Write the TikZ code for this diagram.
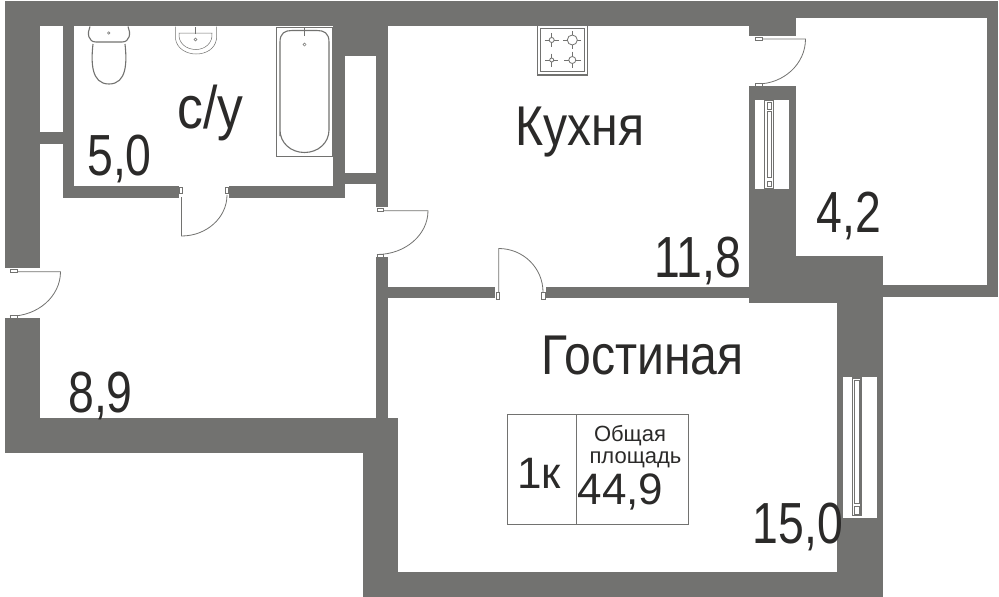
\documentclass[tikz,border=0pt]{standalone}
\usepackage{fontspec}
\setmainfont{Liberation Sans}
\newfontfamily\roomfont[FakeStretch=0.86]{Liberation Sans}
\newfontfamily\digitfont[FakeStretch=0.80]{Liberation Sans}
\usepackage{tikz}
\usetikzlibrary{calc}
\definecolor{wallgray}{HTML}{727270}
\definecolor{inkdark}{HTML}{2B2A29}
\tikzset{
  wall/.style={fill=wallgray},
  doorline/.style={draw=wallgray, line width=0.8pt},
  fixture/.style={draw=wallgray, line width=1.1pt, fill=white},
  thinfix/.style={draw=wallgray, line width=0.5pt, fill=white},
  label/.style={inner sep=0pt, text=inkdark, anchor=base},
  area/.style={label, font=\digitfont\fontsize{58}{58}\selectfont},
  room/.style={label, font=\roomfont\fontsize{56}{56}\selectfont},
  smalltext/.style={label, font=\fontsize{22}{22}\selectfont},
  midtext/.style={label, font=\fontsize{44}{44}\selectfont}
}
\begin{document}
\begin{tikzpicture}[x=1pt,y=-1pt]
  \useasboundingbox (0,0) rectangle (999,597);
  \fill[white] (0,0) rectangle (999,597);
  % outer walls
  \fill[wall] (4.7,1) rectangle (796,26);
  \fill[wall] (796,1) rectangle (998,17.5);
  \fill[wall] (749,26) rectangle (796,36);
  \fill[wall] (987,1) rectangle (998,297);
  \fill[wall] (883,285) rectangle (998,297);
  \fill[wall] (796,256) rectangle (883,303);
  \fill[wall] (749,86) rectangle (796,303);
  \fill[wall] (749,298) rectangle (883,303);
  \fill[wall] (837,303) rectangle (883,597);
  \fill[wall] (363,572) rectangle (883,597);
  \fill[wall] (363,418) rectangle (398,597);
  \fill[wall] (4.7,418) rectangle (398,453);
  \fill[wall] (4.7,26) rectangle (40,268);
  \fill[wall] (4.7,318) rectangle (40,453);
  % inner walls
  \fill[wall] (40,132) rectangle (62.5,144);
  \fill[wall] (62.5,26) rectangle (74,198);
  \fill[wall] (62.5,186) rectangle (179,198);
  \fill[wall] (229,186) rectangle (345,198);
  \fill[wall] (333,26) rectangle (345,198);
  \fill[wall] (333,26) rectangle (388,56);
  \fill[wall] (345,173) rectangle (376,184);
  \fill[wall] (376,26) rectangle (388,207);
  \fill[wall] (376,257) rectangle (388,418);
  \fill[wall] (387,287) rectangle (495,298);
  \fill[wall] (546,287) rectangle (749,298);
  % windows
  \fill[white] (755,100) rectangle (789,189);
  \draw[fixture] (764.5,100.5) rectangle (773.8,188.5);
  \draw[thinfix] (766.8,102.7) rectangle (771.6,109);
  \draw[thinfix] (766.8,111.5) rectangle (771.6,177);
  \draw[thinfix] (766.8,181.5) rectangle (771.6,186.7);
  \fill[white] (843,377) rectangle (877,518);
  \draw[fixture] (852.5,378) rectangle (861,515.5);
  \draw[thinfix] (854.6,380) rectangle (859,503);
  \draw[thinfix] (854.6,506) rectangle (859,514);
  % doors
  \draw[doorline] (181.5,197) -- (181.5,236) arc[start angle=90, end angle=0, x radius=45.5, y radius=41];
  \draw[thinfix] (179.5,187) rectangle (182.5,193);
  \draw[thinfix] (225.5,187) rectangle (228.5,193);
  \draw[doorline] (377,210.7) -- (428,210.7) arc[start angle=0, end angle=90, x radius=51, y radius=43.8];
  \draw[thinfix] (377.5,208) rectangle (383.5,211);
  \draw[thinfix] (377.5,254) rectangle (383.5,257);
  \draw[doorline] (498.7,293) -- (498.7,248.5) arc[start angle=-90, end angle=0, x radius=44.3, y radius=43.5];
  \draw[thinfix] (496,292) rectangle (499.5,299);
  \draw[thinfix] (541.5,292) rectangle (545,299);
  \draw[doorline] (10,271.7) -- (60.5,271.7) arc[start angle=0, end angle=90, x radius=50.5, y radius=44.5];
  \draw[thinfix] (10.5,269) rectangle (17,272);
  \draw[thinfix] (10.5,315) rectangle (17,318);
  \draw[doorline] (757,39) -- (805.5,39) arc[start angle=0, end angle=90, x radius=48.5, y radius=45];
  \draw[thinfix] (755.5,37) rectangle (762,40);
  \draw[thinfix] (755.5,83) rectangle (762,86);
  % toilet
  \draw[fixture] (93,44) .. controls (91,62) and (91,84) .. (109,84) .. controls (127,84) and (127,62) .. (125,44);
  \draw[fixture] (90,26.5) .. controls (87,33) and (88,42) .. (96,42) -- (122,42) .. controls (130,42) and (131,33) .. (128,26.5);
  \draw[thinfix] (108.8,33) circle (1.3);
  % sink
  \draw[thinfix] (175.5,26.5) -- (175.5,39) .. controls (177,49) and (187,54) .. (196,54) .. controls (206,54) and (215,49) .. (216.5,39) -- (216.5,26.5);
  \draw[thinfix] (179,33) .. controls (178,43) and (186,49.5) .. (196,49.5) .. controls (205,49.5) and (213,43) .. (212,33) -- cycle;
  \draw[fixture, fill=wallgray] (195.5,27) -- (195.5,34);
  \draw[thinfix] (195.5,39.5) circle (1.4);
  % bath
  \draw[fixture, line width=0.8pt] (276,27) rectangle (332,156.5);
  \draw[fixture] (280,136) -- (280,42) .. controls (280,33) and (285,30.5) .. (292,30.5) -- (317,30.5) .. controls (324,30.5) and (329,33) .. (329,42) -- (329,130) .. controls (329,143) and (318,152.5) .. (304.5,152.5) .. controls (291,152.5) and (280,143) .. (280,130) -- cycle;
  \draw[thinfix] (304.5,44.5) circle (1.6);
  \draw[fixture, fill=wallgray] (304.5,28) -- (304.5,36);
  % stove
  \draw[fixture, line width=1.4pt] (537.5,25.7) rectangle (587.3,74.8);
  \draw[fixture, line width=1.2pt] (540.5,28.2) rectangle (584.7,71.7);
  \foreach \px/\py/\rr/\ext in {551.7/40/2.5/7.2, 572.3/40/5/9, 551.7/60/2/6.5, 572.3/60/3.5/8.3} {
    \draw[doorline] (\px-\ext,\py) -- (\px+\ext,\py);
    \draw[doorline] (\px,\py-\ext) -- (\px,\py+\ext);
    \draw[fixture, line width=0.8pt] (\px,\py) circle (\rr);
  }
  % info box
  \draw[doorline] (507.5,414.7) rectangle (688,524);
  \draw[doorline] (576.7,414.7) -- (576.7,524);
  % labels
  \node[room, font=\roomfont\fontsize{60}{60}\selectfont] (labelBath) at (210.5,128) {с/у};
  \node[area] (areaBath) at (119.5,175) {5,0};
  \node[room] (labelKitchen) at (580,145) {Кухня};
  \node[area] (areaKitchen) at (698,277) {11,8};
  \node[area] (areaBalcony) at (849,232) {4,2};
  \node[room] (labelLiving) at (642.5,374) {Гостиная};
  \node[area] (areaHall) at (100.5,412) {8,9};
  \node[area] (areaLiving) at (798,543) {15,0};
  \node[midtext] (labelRooms) at (539,488) {1к};
  \node[smalltext] (labelTotal) at (630,441) {Общая};
  \node[smalltext] (labelSquare) at (635.5,463) {площадь};
  \node[midtext] (areaTotal) at (620.5,504) {44,9};
\end{tikzpicture}
\end{document}
